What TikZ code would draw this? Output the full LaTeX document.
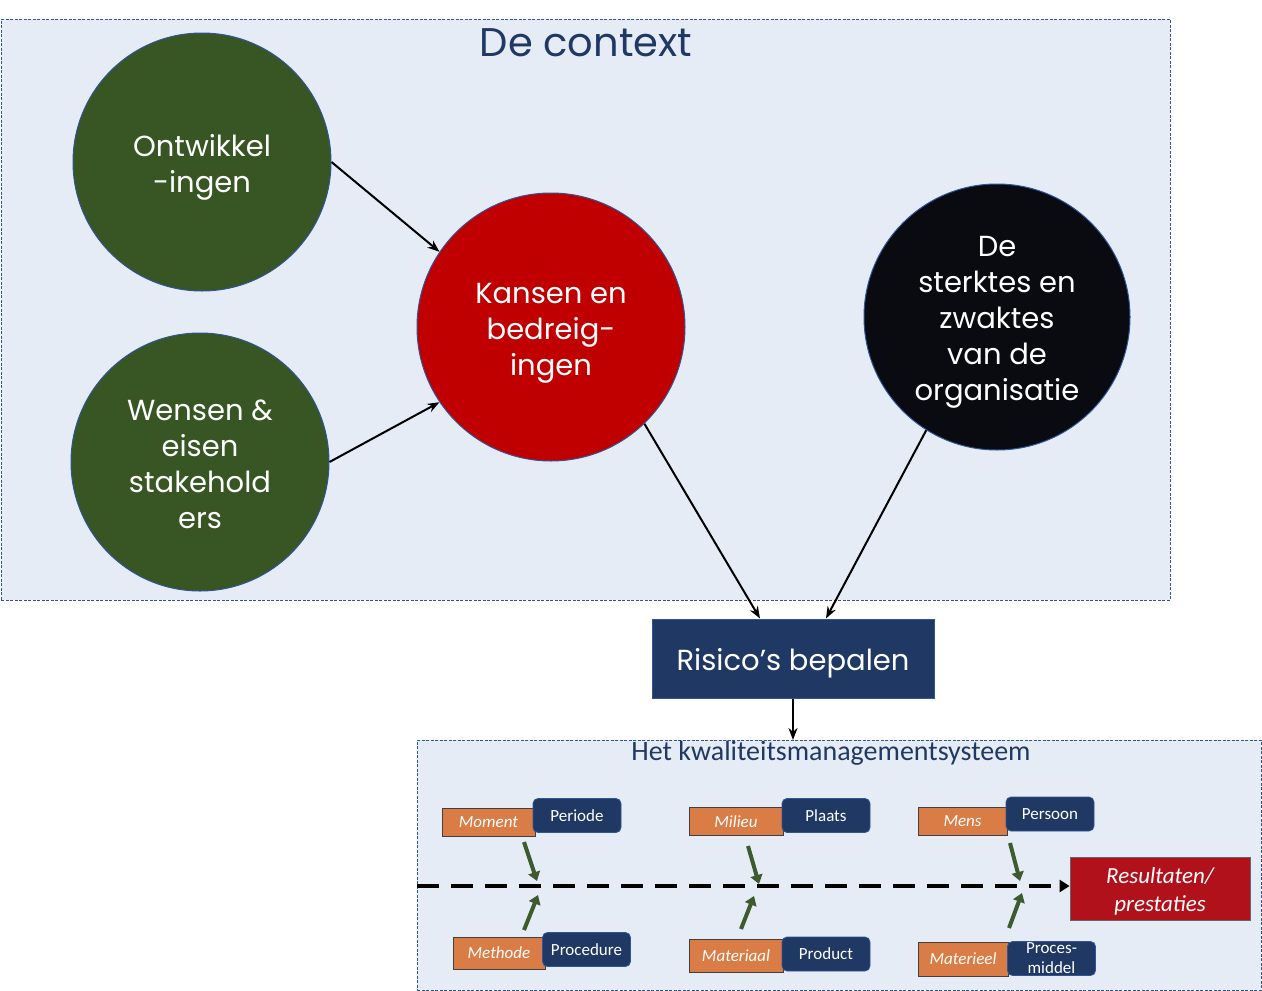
\documentclass[tikz,border=0pt]{standalone}
\usepackage{fontspec}
\setmainfont{Poppins}
\newfontfamily\calib{Carlito}
\usetikzlibrary{arrows.meta}
\definecolor{bgblue}{HTML}{E6ECF6}
\definecolor{bordblue}{HTML}{2F5597}
\definecolor{navy}{HTML}{203864}
\definecolor{cgreen}{HTML}{375623}
\definecolor{cred}{HTML}{C00000}
\definecolor{cblack}{HTML}{0A0B10}
\definecolor{corange}{HTML}{D97C45}
\definecolor{dred}{HTML}{B0111B}
\definecolor{agreen}{HTML}{3E5B2F}
\tikzset{
  circ/.style={circle, draw=bordblue, line width=1pt, minimum size=#1, inner sep=0pt},
  ctext/.style={text=white, align=center, inner sep=0pt, font=\fontsize{29}{36}\selectfont},
  arr/.style={-{Stealth[length=12pt,width=9pt]}, line width=2pt},
  obox/.style={fill=corange, draw=black!75, line width=0.8pt, text=white,
    minimum height=28pt, inner sep=0pt, font=\calib\itshape\fontsize{17}{20}\selectfont},
  nbox/.style={fill=navy, draw=bordblue, line width=0.8pt, rounded corners=5pt, text=white,
    minimum width=88pt, minimum height=34pt, inner sep=0pt, align=center,
    font=\calib\fontsize{17}{17}\selectfont},
  garr/.style={draw=agreen, line width=4pt, -{Triangle[length=9pt,width=12pt]}},
  area/.style={fill=bgblue, draw=bordblue, dashed, dash pattern=on 3pt off 1.5pt, line width=0.8pt}
}
\begin{document}
\begin{tikzpicture}[x=1pt,y=-1pt]
\useasboundingbox (0,0) rectangle (1262,991);
% context area
\node[area, minimum width=1169pt, minimum height=581pt, inner sep=0pt, anchor=north west] (ctx) at (1,19) {};
\node[text=navy, font=\fontsize{40}{48}\selectfont] (ctxt) at (586,43) {De context};
\node[circ=258pt, fill=cgreen] (ont) at (202,162) {};
\node[ctext] (ontt) at ([yshift=-5pt]ont.center) {Ontwikkel\\-ingen};
\node[circ=258pt, fill=cgreen] (wen) at (200,462) {};
\node[ctext] (went) at ([yshift=-2pt]wen.center) {Wensen \&\\eisen\\stakehold\\ers};
\node[circ=268pt, fill=cred] (kans) at (551,327) {};
\node[ctext] (kanst) at ([yshift=-6pt]kans.center) {Kansen en\\bedreig-\\ingen};
\node[circ=266pt, fill=cblack] (blk) at (997,317) {};
\node[ctext] (blkt) at ([yshift=-5pt]blk.center) {De\\sterktes en\\zwaktes\\van de\\organisatie};
\node[fill=navy, draw=bordblue, line width=1pt, minimum width=282pt, minimum height=79pt] (risk) at (793,658.5) {};
\node[text=white, inner sep=0pt, font=\fontsize{29}{34}\selectfont] (riskt) at ([yshift=-5pt]risk.center) {Risico’s bepalen};
\draw[arr] (ont.east) -- (kans.146);
\draw[arr] (wen.east) -- (kans.214);
\draw[arr] (kans.-46) -- ([xshift=-33pt]risk.north);
\draw[arr] (blk.238) -- ([xshift=33pt]risk.north);
% KMS
\node[area, minimum width=844pt, minimum height=250pt, inner sep=0pt, anchor=north west] (kms) at (417,740) {};
\draw[arr] (risk.south) -- (risk.south |- kms.north);
\node[text=navy, font=\calib\fontsize{28}{32}\selectfont] (kmst) at (831,753) {Het kwaliteitsmanagementsysteem};
\node[fill=dred, draw=black!60, line width=0.8pt, minimum width=180pt, minimum height=63pt] (res) at (1160,888.5) {};
\node[text=white, align=center, inner sep=0pt, font=\calib\itshape\fontsize{23}{28}\selectfont] (rest) at ([yshift=-3pt]res.center) {Resultaten/\\prestaties};
\draw[line width=4pt, dash pattern=on 22pt off 12pt, -{Triangle[length=10pt,width=12pt]}]
  (kms.west |- 0,886) coordinate (lstart) -- (res.west |- 0,886);
% top row
\node[obox, minimum width=93pt] (mom) at (488.5,822) {Moment};
\node[nbox] (per) at (577,815.5) {Periode};
\node[obox, minimum width=94pt] (mil) at (736,821.5) {Milieu};
\node[nbox] (pla) at (826,815.5) {Plaats};
\node[obox, minimum width=89pt] (men) at (962.5,821) {Mens};
\node[nbox] (pers) at (1050,814) {Persoon};
% bottom row
\node[obox, minimum width=92pt, minimum height=32pt] (met) at (499,953) {Methode};
\node[nbox] (pro) at (586.5,949.5) {Procedure};
\node[obox, minimum width=94pt, minimum height=33pt] (mat) at (736,955.5) {Materiaal};
\node[nbox] (prd) at (826,954) {Product};
\node[obox, minimum width=90pt, minimum height=34pt] (mtl) at (963,959) {Materieel};
\node[nbox, font=\calib\fontsize{17}{20}\selectfont] (pmd) at (1051.5,958.5) {Proces-\\middel};
% green arrows
\coordinate (a1s) at (524,842); \coordinate (a1e) at (537,881);
\coordinate (b1s) at (524,930); \coordinate (b1e) at (538,895);
\coordinate (a2s) at (748,846); \coordinate (a2e) at (759,884);
\coordinate (b2s) at (741,929); \coordinate (b2e) at (754,896);
\coordinate (a3s) at (1010,843); \coordinate (a3e) at (1020,881);
\coordinate (b3s) at (1009,928); \coordinate (b3e) at (1022,893);
\foreach \s/\e in {a1s/a1e,b1s/b1e,a2s/a2e,b2s/b2e,a3s/a3e,b3s/b3e}
  \draw[garr] (\s) -- (\e);
\end{tikzpicture}
\end{document}
